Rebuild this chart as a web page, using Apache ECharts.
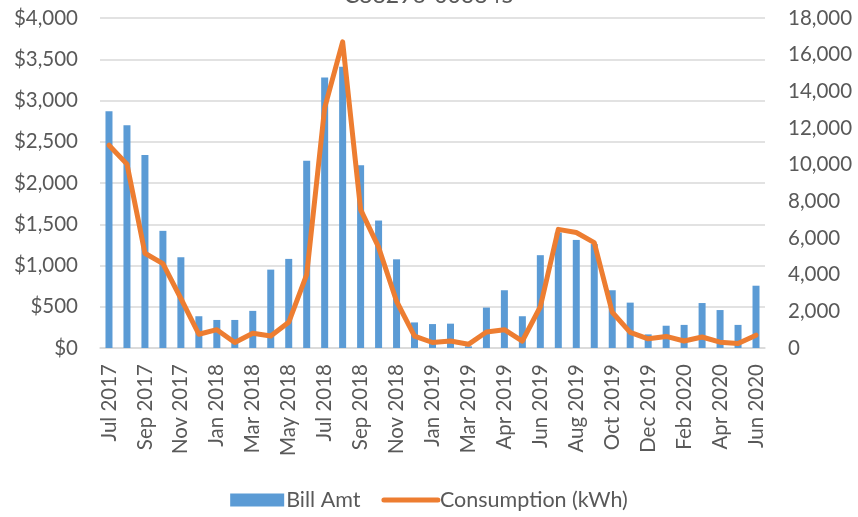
<!DOCTYPE html>
<html>
<head>
<meta charset="utf-8">
<script src="https://cdn.jsdelivr.net/npm/echarts@6/dist/echarts.min.js"></script>
<style>
html,body{margin:0;padding:0;background:#fff;}
#c{width:858px;height:517px;}
</style>
</head>
<body>
<div id="c"></div>
<script>
var titleText = 'C88296-003845';
var categories = ['Jul 2017','Aug 2017','Sep 2017','Oct 2017','Nov 2017','Dec 2017',
  'Jan 2018','Feb 2018','Mar 2018','Apr 2018','May 2018','Jun 2018',
  'Jul 2018','Aug 2018','Sep 2018','Oct 2018','Nov 2018','Dec 2018',
  'Jan 2019','Feb 2019','Mar 2019','Apr 2019 ','Apr 2019','May 2019','Jun 2019',
  'Jul 2019','Aug 2019','Sep 2019','Oct 2019','Nov 2019','Dec 2019',
  'Jan 2020','Feb 2020','Mar 2020','Apr 2020','May 2020','Jun 2020'];
var billAmt = [2870,2700,2340,1420,1100,385,340,340,450,950,1080,2270,
  3280,3410,2215,1545,1075,310,290,295,20,490,700,385,1125,
  1400,1310,1260,700,550,165,270,280,545,460,280,755];
var consumption = [11060,10030,5170,4600,2700,750,1000,300,800,650,1400,4000,
  13100,16700,7550,5500,2550,650,300,380,200,870,1000,380,2250,
  6470,6300,5750,1950,850,500,630,380,600,320,250,700];
var leftTicks = {min:0, max:4000, interval:500};
var rightTicks = {min:0, max:18000, interval:2000};

var FONT = 'Lato';
var TXT = '#595959';
function fmt(v){return v.toString().replace(/\B(?=(\d{3})+(?!\d))/g, ',');}

var chart = echarts.init(document.getElementById('c'), null, {renderer:'canvas'});
chart.setOption({
  animation:false,
  backgroundColor:'#ffffff',
  title:{text:titleText, left:'center', top:-21,
    textStyle:{fontFamily:FONT, fontSize:23, fontWeight:'normal', color:TXT}},
  grid:{left:100, right:93, top:18, bottom:169, containLabel:false},
  legend:{bottom:1, left:'center', itemGap:21,
    textStyle:{fontFamily:FONT, fontSize:21.5, color:TXT, padding:[0,0,0,-3]},
    data:[{name:'Bill Amt', icon:'rect', itemStyle:{color:'#5B9BD5'}},
          {name:'Consumption (kWh)',
           itemStyle:{color:'rgba(0,0,0,0)', borderColor:'rgba(0,0,0,0)', borderWidth:0, opacity:0},
           lineStyle:{color:'#ED7D31', width:5, cap:'round'}}],
    itemWidth:54, itemHeight:13},
  xAxis:{type:'category', data:categories, boundaryGap:true,
    axisLine:{show:true, lineStyle:{color:'#D9D9D9', width:1.5}},
    axisTick:{show:false},
    axisLabel:{rotate:90, interval:1, margin:16, fontFamily:FONT, fontSize:20.5, color:TXT}},
  yAxis:[
    {type:'value', min:leftTicks.min, max:leftTicks.max, interval:leftTicks.interval,
     axisLine:{show:false}, axisTick:{show:false},
     splitLine:{lineStyle:{color:'#D9D9D9', width:1.5}},
     axisLabel:{margin:22, fontFamily:FONT, fontSize:20.5, color:TXT,
       formatter:function(v){return '$'+fmt(v);}}},
    {type:'value', min:rightTicks.min, max:rightTicks.max, interval:rightTicks.interval,
     axisLine:{show:false}, axisTick:{show:false}, splitLine:{show:false},
     axisLabel:{margin:23, fontFamily:FONT, fontSize:20.5, color:TXT,
       formatter:function(v){return fmt(v);}}}
  ],
  series:[
    {name:'Bill Amt', type:'bar', yAxisIndex:0, data:billAmt, barWidth:7,
     itemStyle:{color:'#5B9BD5'}},
    {name:'Consumption (kWh)', type:'line', yAxisIndex:1, data:consumption,
     symbol:'none', showSymbol:false,
     lineStyle:{color:'#ED7D31', width:5, cap:'round', join:'round'},
     itemStyle:{color:'#ED7D31'}}
  ]
});
</script>
</body>
</html>
